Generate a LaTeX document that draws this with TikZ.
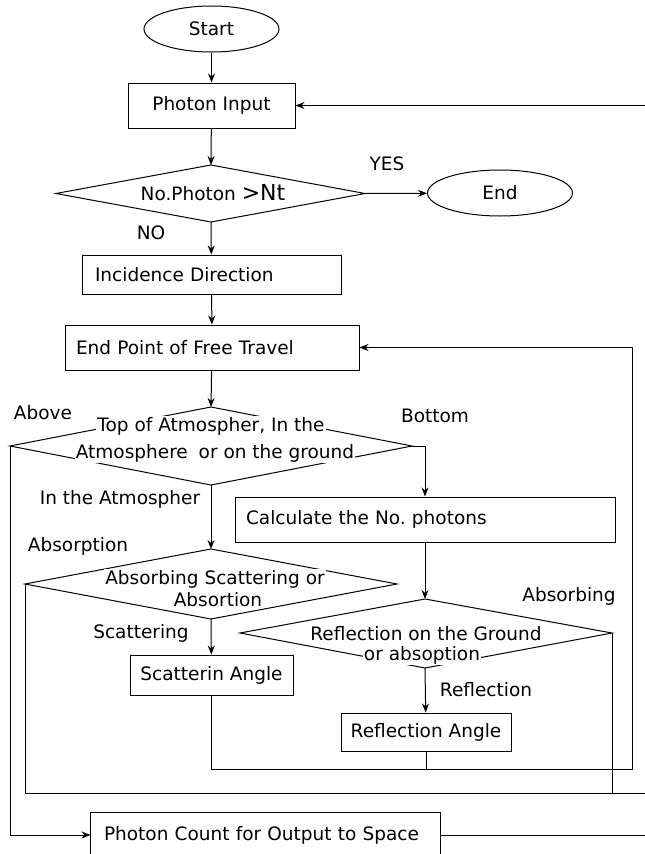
\documentclass[tikz,border=0pt]{standalone}
\usepackage{fontspec}
\setmainfont{DejaVu Sans}
\usetikzlibrary{shapes.geometric,arrows.meta}
\frenchspacing

\tikzset{
  every node/.style={font=\fontsize{18.5}{21}\selectfont},
  box/.style={draw, rectangle, inner sep=0pt},
  oval/.style={draw, ellipse, inner sep=0pt},
  dtext/.style={fill=white, inner sep=1pt},
}

\begin{document}
\begin{tikzpicture}[x=1pt, y=-1pt, line width=1pt, >={Stealth[length=9pt,width=7pt]}]
    \useasboundingbox (0,0) rectangle (645,854);
    % boxes and terminals
    \node[oval, minimum width=135, minimum height=46] (start) at (211.5,29) {Start};
    \node[box, minimum width=167, minimum height=45] (pin) at (211.5,105.5) {Photon Input};
    \node[oval, minimum width=145, minimum height=46] (end) at (500,193) {End};
    \node[box, minimum height=39, text width=233, inner xsep=13, align=left] (inc) at (211.5,274.5) {Incidence Direction};
    \node[box, minimum height=45, text width=272, inner xsep=11, align=left] (efp) at (212,347.5) {End Point of Free Travel};
    \node[box, minimum height=45, text width=358, inner xsep=11, align=left] (calc) at (425,519.5) {Calculate the No. photons};
    \node[box, minimum width=163, minimum height=40] (sca) at (211.5,675) {Scatterin Angle};
    \node[box, minimum width=170, minimum height=38] (ref) at (426,732) {Reflection Angle};
    \node[minimum height=44, text width=323, inner xsep=13, inner ysep=0pt, align=left] (pc) at (265.5,835) {Photon Count for Output to Space};
    \draw (pc.south west) |- (pc.north east) -- (pc.south east);

    % decisions
    \coordinate (d1t) at (211,165); \coordinate (d1r) at (365,193.5);
    \coordinate (d1b) at (211,222); \coordinate (d1l) at (56,193.5);
    \coordinate (d2t) at (211,407); \coordinate (d2r) at (412,446);
    \coordinate (d2b) at (211,485); \coordinate (d2l) at (10,446);
    \coordinate (d3t) at (211,549); \coordinate (d3r) at (397,584);
    \coordinate (d3b) at (211,619); \coordinate (d3l) at (25,584);
    \coordinate (d4t) at (425,599); \coordinate (d4r) at (612,633);
    \coordinate (d4b) at (425,668); \coordinate (d4l) at (240,633);
    \draw (d1t) -- (d1r) -- (d1b) -- (d1l) -- cycle;
    \draw (d2t) -- (d2r) -- (d2b) -- (d2l) -- cycle;
    \draw (d3t) -- (d3r) -- (d3b) -- (d3l) -- cycle;
    \draw (d4t) -- (d4r) -- (d4b) -- (d4l) -- cycle;
    \node[dtext] (q1) at (213,193) {No.Photon\ {\fontsize{22}{24}\selectfont >Nt}};
    \node[dtext] (q2a) at (211,426) {Top of Atmospher, In the};
    \node[dtext] (q2b) at (215,453) {Atmosphere\hspace{5pt} or on the ground};
    \node[dtext] (q3a) at (215,579) {Absorbing Scattering or};
    \node[dtext] (q3b) at (218,600) {Absortion};
    \node[dtext] (q4a) at (426,634) {Reflection on the Ground};
    \node[dtext] (q4b) at (422,655) {or absoption};

    % free ends at the right edge
    \coordinate (pinin) at (650,105.5);
    \coordinate (loop) at (632,769);
    \coordinate (absr) at (650,793);
    \coordinate (pcout) at (650,835);

    % connectors
    \draw[->] (start) -- (pin);
    \draw[->] (pinin) -- (pin);
    \draw[->] (pin) -- (d1t);
    \draw[->] (d1r) -- (end);
    \draw[->] (d1b) -- (inc);
    \draw[->] (inc) -- (efp);
    \draw[->] (efp) -- (d2t);
    \draw[->] (d2r) -| (calc);
    \draw[->] (d2b) -- (d3t);
    \draw[->] (d2l) |- (pc.west);
    \draw[->] (calc.south) -- (d4t);
    \draw[->] (d3b) -- (sca);
    \draw[->] (d4b) -- (ref);
    \draw[->] (sca.south) |- (loop) |- (efp.east);
    \draw (ref.south) -- (ref.south |- loop);
    \draw (d3l) |- (absr);
    \draw (d4r) -- (d4r |- absr);
    \draw (pc.east) -- (pcout);

    % branch labels
    \node (yes) at (387,164) {YES};
    \node (no) at (151,233) {NO};
    \node (above) at (43,413) {Above};
    \node (bottom) at (435,416) {Bottom};
    \node (inatm) at (120,499) {In the Atmospher};
    \node (absn) at (78,546) {Absorption};
    \node (scat) at (141,633) {Scattering};
    \node (absg) at (569,596) {Absorbing};
    \node (refl) at (486,690) {Reflection};
\end{tikzpicture}
\end{document}
